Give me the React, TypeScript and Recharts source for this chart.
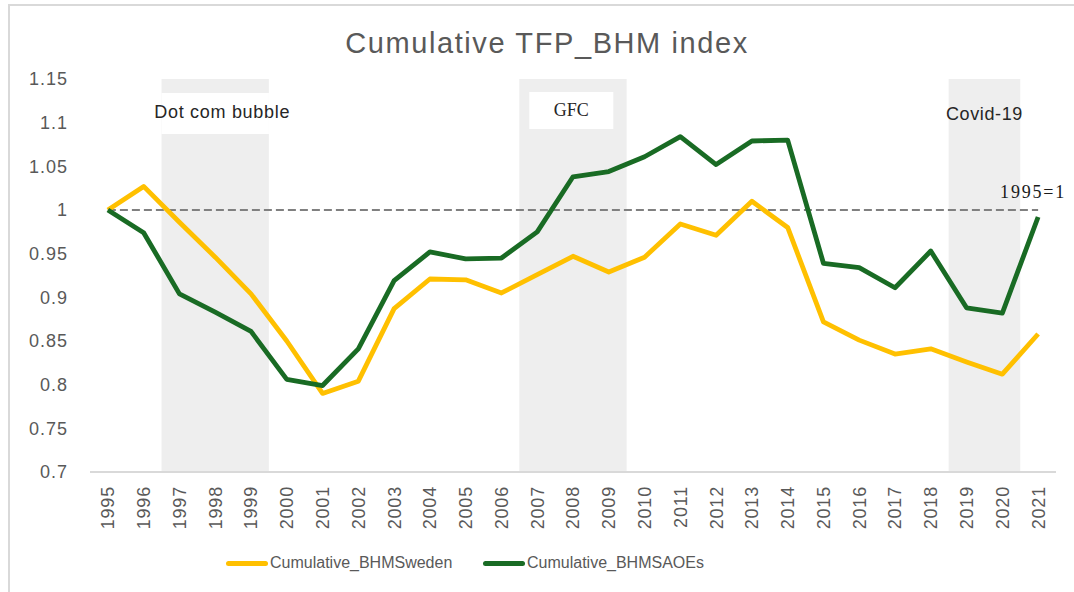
import React from 'react';
import { ComposedChart, Line, XAxis, YAxis, ReferenceArea, ReferenceLine } from 'recharts';

const years = [
    '1995', '1996', '1997', '1998', '1999', '2000', '2001', '2002', '2003',
    '2004', '2005', '2006', '2007', '2008', '2009', '2010', '2011', '2012',
    '2013', '2014', '2015', '2016', '2017', '2018', '2019', '2020', '2021',
];

const sweden = [
    1.0, 1.027, 0.986, 0.946, 0.904, 0.85, 0.79, 0.804, 0.887,
    0.921, 0.92, 0.905, 0.926, 0.947, 0.929, 0.946, 0.984, 0.971,
    1.01, 0.98, 0.872, 0.851, 0.835, 0.841, 0.826, 0.812, 0.858,
];

const saoes = [
    1.0, 0.974, 0.904, 0.883, 0.861, 0.806, 0.799, 0.841, 0.919,
    0.952, 0.944, 0.945, 0.975, 1.038, 1.044, 1.061, 1.084, 1.052,
    1.079, 1.08, 0.939, 0.934, 0.911, 0.953, 0.888, 0.882, 0.992,
];

const yTicks = [0.7, 0.75, 0.8, 0.85, 0.9, 0.95, 1, 1.05, 1.1, 1.15];

const baseYear = '1995';
const lastYear = '2021';
const baseValue = 1;

const SANS = '"Liberation Sans", Arial, sans-serif';
const SERIF = '"Liberation Serif", "Times New Roman", serif';
const GREY = '#595959';

const data = years.map((year, i) => ({ year, sweden: sweden[i], saoes: saoes[i] }));

const YearTick = (props: any) => {
    const { x, y, payload } = props;
    return (
        <text
            x={x}
            y={y}
            transform={`rotate(-90, ${x}, ${y})`}
            textAnchor="end"
            dy="0.36em"
            fontSize={18}
            letterSpacing={0.8}
            fill={GREY}
            fontFamily={SANS}
        >
            {payload.value}
        </text>
    );
};

// label boxes for the shaded episodes
const DotComLabel = (props: any) => {
    const { x, y, width } = props.viewBox;
    return (
        <g>
            <rect x={x} y={y + 14} width={width} height={41} fill="#fff" />
            <text x={x + width / 2 + 7} y={y + 39} textAnchor="middle" fontSize={18} letterSpacing={0.7} fill="#262626" fontFamily={SANS}>
                Dot com bubble
            </text>
        </g>
    );
};

const GfcLabel = (props: any) => {
    const { x, y } = props.viewBox;
    return (
        <g>
            <rect x={x + 10} y={y + 13} width={84} height={37} fill="#fff" />
            <text x={x + 52} y={y + 37} textAnchor="middle" fontSize={18} fill="#262626" fontFamily={SERIF}>
                GFC
            </text>
        </g>
    );
};

const CovidLabel = (props: any) => {
    const { x, y, width } = props.viewBox;
    return (
        <text x={x + width / 2} y={y + 41} textAnchor="middle" fontSize={18} letterSpacing={0.6} fill="#262626" fontFamily={SANS}>
            Covid-19
        </text>
    );
};

const BaseLabel = (props: any) => {
    const { x, y, width } = props.viewBox;
    return (
        <text x={x + width - 38} y={y - 12} fontSize={18} letterSpacing={1.8} fill="#1a1a1a" fontFamily={SERIF}>
            1995=1
        </text>
    );
};

const LegendItem = ({ left, color, text }: { left: number; color: string; text: string }) => (
    <div style={{ position: 'absolute', left, top: 552, height: 22, display: 'flex', alignItems: 'center' }}>
        <div style={{ width: 42, height: 5, borderRadius: 3, background: color }} />
        <span style={{ marginLeft: 2, fontSize: 16, color: GREY, fontFamily: SANS, whiteSpace: 'nowrap' }}>{text}</span>
    </div>
);

const App: React.FC = () => {
    return (
        <div style={{ position: 'absolute', left: 0, top: 0, width: 1074, height: 592, overflow: 'hidden', background: '#fff' }}>
            {/* chart frame, only left and top edges show */}
            <div style={{ position: 'absolute', left: 8, top: 4, width: 1100, height: 620, borderLeft: '2px solid #d9d9d9', borderTop: '2px solid #d9d9d9' }} />

            <div
                style={{
                    position: 'absolute', left: 0, top: 29, width: 1094, textAlign: 'center',
                    fontSize: 29, lineHeight: '29px', color: GREY, fontFamily: SANS, letterSpacing: 1.6,
                }}
            >
                Cumulative TFP_BHM index
            </div>

            <div style={{ position: 'absolute', left: 0, top: 0 }}>
                <ComposedChart width={1074} height={592} data={data} margin={{ top: 79, right: 18, left: 0, bottom: 60 }}>
                    <ReferenceArea x1="1997" x2="1999" fill="#eeeeee" fillOpacity={1} ifOverflow="visible" label={DotComLabel} />
                    <ReferenceArea x1="2007" x2="2009" fill="#eeeeee" fillOpacity={1} ifOverflow="visible" label={GfcLabel} />
                    <ReferenceArea x1="2019" x2="2020" fill="#eeeeee" fillOpacity={1} ifOverflow="visible" label={CovidLabel} />
                    <XAxis
                        dataKey="year"
                        scale="band"
                        interval={0}
                        tick={<YearTick />}
                        tickLine={false}
                        axisLine={{ stroke: '#d9d9d9', strokeWidth: 2 }}
                        tickMargin={8}
                        height={60}
                    />
                    <YAxis
                        type="number"
                        domain={[0.7, 1.15]}
                        ticks={yTicks}
                        interval={0}
                        axisLine={false}
                        tickLine={false}
                        width={90}
                        tickMargin={16}
                        tick={{ fill: GREY, fontSize: 18, fontFamily: SANS, letterSpacing: 1 }}
                    />
                    <ReferenceLine
                        segment={[{ x: baseYear, y: baseValue }, { x: lastYear, y: baseValue }]}
                        stroke="#808080"
                        strokeWidth={2}
                        strokeDasharray="8 4"
                        label={BaseLabel}
                    />
                    <Line
                        type="linear"
                        dataKey="sweden"
                        name="Cumulative_BHMSweden"
                        stroke="#FFC000"
                        strokeWidth={4.8}
                        strokeLinejoin="round"
                        dot={false}
                        activeDot={false}
                        isAnimationActive={false}
                    />
                    <Line
                        type="linear"
                        dataKey="saoes"
                        name="Cumulative_BHMSAOEs"
                        stroke="#196B24"
                        strokeWidth={4.8}
                        strokeLinejoin="round"
                        dot={false}
                        activeDot={false}
                        isAnimationActive={false}
                    />
                </ComposedChart>
            </div>

            <LegendItem left={226} color="#FFC000" text="Cumulative_BHMSweden" />
            <LegendItem left={483} color="#196B24" text="Cumulative_BHMSAOEs" />
        </div>
    );
};

export default App;
